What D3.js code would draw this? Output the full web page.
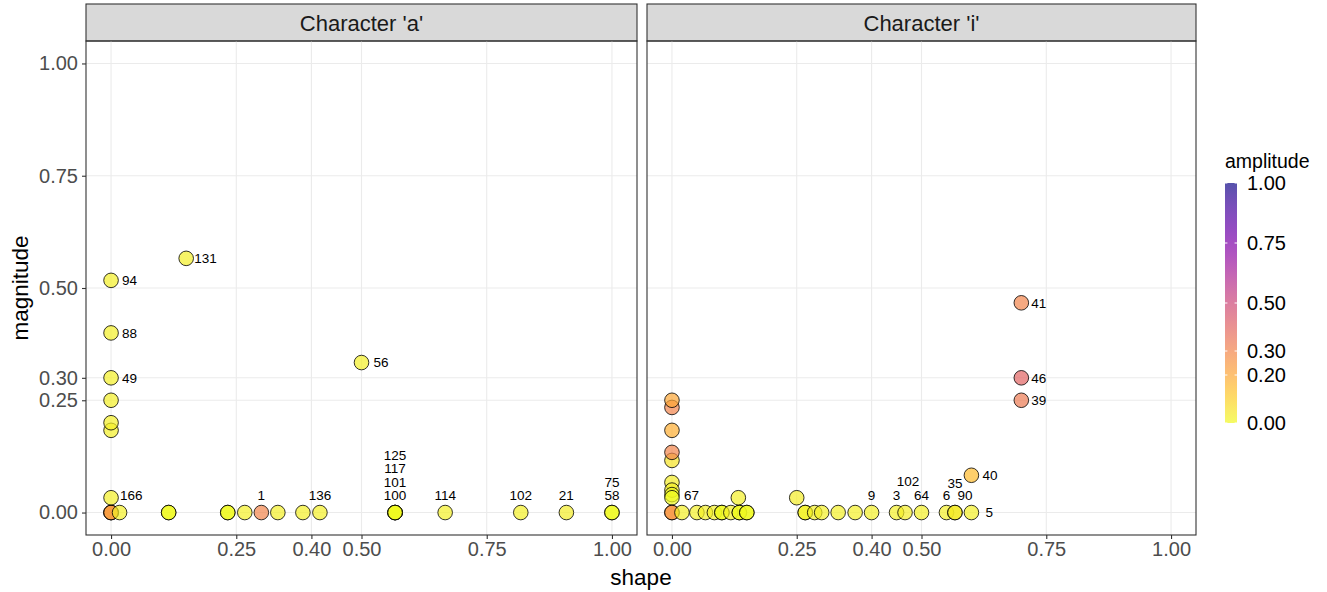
<!DOCTYPE html>
<html>
<head>
<meta charset="utf-8">
<script src="https://cdn.jsdelivr.net/npm/d3@7"></script>
<style>
  body { margin: 0; background: #fff; }
  svg { display: block; font-family: "Liberation Sans", Arial, sans-serif; }
</style>
</head>
<body>
<svg id="chart" width="1327" height="592"></svg>
<script>
// panel titles
const panelNames = ["Character 'a'", "Character 'i'"];

// Character 'a'
const aShape     = [0, 0, 0, 0.017, 0.115, 0.115, 0.233, 0.233, 0.267, 0.3, 0.333, 0.383, 0.417, 0.567, 0.567, 0.567, 0.567, 0.667, 0.818, 0.909, 1, 1, 0, 0, 0, 0, 0, 0, 0, 0.15, 0.5];
const aMagnitude = [0, 0, 0, 0, 0, 0, 0, 0, 0, 0, 0, 0, 0, 0, 0, 0, 0, 0, 0, 0, 0, 0, 0.033, 0.183, 0.2, 0.25, 0.3, 0.4, 0.517, 0.566, 0.334];
const aAmplitude = [0.02, 0.25, 0.25, 0.02, 0, 0, 0, 0, 0.02, 0.3, 0.02, 0.02, 0.02, 0, 0, 0, 0, 0.02, 0.02, 0.03, 0, 0, 0.02, 0.02, 0.02, 0.02, 0.02, 0.02, 0.02, 0.02, 0.02];
const aLabel     = ["", "", "", "", "", "", "", "", "", "1", "", "", "136", "100", "101", "117", "125", "114", "102", "21", "58", "75", "166", "", "", "", "49", "88", "94", "131", "56"];

// Character 'i'
const iShape     = [0, 0, 0, 0, 0, 0, 0, 0, 0, 0, 0, 0.02, 0.05, 0.067, 0.085, 0.1, 0.1, 0.118, 0.135, 0.135, 0.15, 0.15, 0.133, 0.25, 0.267, 0.267, 0.286, 0.3, 0.333, 0.367, 0.4, 0.45, 0.467, 0.5, 0.55, 0.567, 0.567, 0.6, 0.6, 0.7, 0.7, 0.7];
const iMagnitude = [0.234, 0.25, 0.183, 0.116, 0.134, 0.067, 0.05, 0.04, 0.033, 0, 0, 0, 0, 0, 0, 0, 0, 0, 0, 0, 0, 0, 0.033, 0.033, 0, 0, 0, 0, 0, 0, 0, 0, 0, 0, 0, 0, 0, 0, 0.083, 0.467, 0.3, 0.25];
const iAmplitude = [0.3, 0.2, 0.18, 0.05, 0.3, 0.03, 0.02, 0, 0, 0.25, 0.25, 0.02, 0.02, 0.02, 0.02, 0, 0, 0.02, 0, 0, 0, 0, 0.02, 0.03, 0, 0.02, 0.02, 0.02, 0.02, 0.02, 0.02, 0.02, 0.03, 0.02, 0.02, 0.05, 0.03, 0.02, 0.15, 0.3, 0.4, 0.33];
const iLabel     = ["", "", "", "", "", "", "", "", "67", "", "", "", "", "", "", "", "", "", "", "", "", "", "", "", "", "", "", "", "", "", "9", "3", "102", "64", "6", "35", "90", "5", "40", "41", "46", "39"];

// axis breaks
const xBreaks = [0, 0.25, 0.4, 0.5, 0.75, 1];
const yBreaks = [0, 0.25, 0.3, 0.5, 0.75, 1];
const ampBreaks = [0, 0.2, 0.3, 0.5, 0.75, 1];

// label placement: labels to the right of their point, the rest sit above
const rightLabels = {
  a: ["94", "88", "49", "131", "56", "166"],
  i: ["67", "5", "40", "41", "46", "39"]
};
// small manual nudges (px), mimicking the repel layout
const nudge = {
  "a:131": [8, 0], "a:94": [11, 0], "a:88": [11, 0], "a:49": [11, 0], "a:56": [12, 0], "a:166": [9, -2],
  "i:67": [12, -2], "i:5": [14, 0], "i:40": [11, 0], "i:41": [10, 0], "i:46": [10, 0], "i:39": [10, 0],
  "i:102": [3, -31], "i:35": [0, -29], "i:90": [10, -17]
};

const panelsData = [
  { key: "a", shape: aShape, mag: aMagnitude, amp: aAmplitude, lab: aLabel },
  { key: "i", shape: iShape, mag: iMagnitude, amp: iAmplitude, lab: iLabel }
];

const svg = d3.select("#chart");
const panelX = [[86, 637], [647, 1196]];
const stripTop = 4, panelTop = 41, panelBottom = 535;

const y = d3.scaleLinear().domain([-0.05, 1.05]).range([panelBottom, panelTop]);
const colour = a => d3.interpolatePlasma(1 - a);
const fmt = d3.format(".2f");
const alpha = 0.7;

panelsData.forEach((p, pi) => {
  const [x0, x1] = panelX[pi];
  const x = d3.scaleLinear().domain([-0.05, 1.05]).range([x0, x1]);
  const g = svg.append("g");

  // strip
  g.append("rect").attr("x", x0).attr("y", stripTop).attr("width", x1 - x0).attr("height", panelTop - stripTop)
    .attr("fill", "#D9D9D9").attr("stroke", "#333333").attr("stroke-width", 1.1);
  g.append("text").attr("x", (x0 + x1) / 2).attr("y", (stripTop + panelTop) / 2 + 8)
    .attr("text-anchor", "middle").attr("font-size", 22).attr("fill", "#1A1A1A").text(panelNames[pi]);

  // grid
  g.append("g").selectAll("line").data(xBreaks).join("line")
    .attr("x1", d => x(d)).attr("x2", d => x(d)).attr("y1", panelTop).attr("y2", panelBottom)
    .attr("stroke", "#EBEBEB").attr("stroke-width", 1.1);
  g.append("g").selectAll("line").data(yBreaks).join("line")
    .attr("x1", x0).attr("x2", x1).attr("y1", d => y(d)).attr("y2", d => y(d))
    .attr("stroke", "#EBEBEB").attr("stroke-width", 1.1);

  // points
  const pts = p.shape.map((s, i) => ({ s, m: p.mag[i], a: p.amp[i], lab: p.lab[i] }));
  g.append("g").selectAll("circle").data(pts).join("circle")
    .attr("cx", d => x(d.s)).attr("cy", d => y(d.m)).attr("r", 7.3)
    .attr("fill", d => colour(d.a)).attr("fill-opacity", alpha)
    .attr("stroke", "#000").attr("stroke-width", 0.8);

  // labels (stack "above" labels that share a point)
  const stackCount = {};
  const labs = pts.filter(d => d.lab !== "").map(d => {
    const right = rightLabels[p.key].includes(d.lab);
    const k = d.s + "|" + d.m;
    let level = 0;
    if (!right) { level = stackCount[k] || 0; stackCount[k] = level + 1; }
    const nd = nudge[p.key + ":" + d.lab];
    const dx = nd ? nd[0] : 0;
    const dy = nd ? nd[1] : (right ? 0 : -17 - level * 13.5);
    return { ...d, right, dx, dy };
  });
  g.append("g").selectAll("text").data(labs).join("text")
    .attr("x", d => x(d.s) + d.dx).attr("y", d => y(d.m) + d.dy + 4.7)
    .attr("text-anchor", d => d.right ? "start" : "middle")
    .attr("font-size", 13.5).attr("fill", "#000").text(d => d.lab);

  // border
  g.append("rect").attr("x", x0).attr("y", panelTop).attr("width", x1 - x0).attr("height", panelBottom - panelTop)
    .attr("fill", "none").attr("stroke", "#333333").attr("stroke-width", 1.1);

  // x axis
  const xa = g.append("g").attr("transform", `translate(0,${panelBottom})`)
    .call(d3.axisBottom(x).tickValues(xBreaks).tickFormat(fmt).tickSize(4).tickPadding(3));
  xa.select(".domain").remove();
  xa.selectAll("line").attr("stroke", "#333333").attr("stroke-width", 1.1);
  xa.selectAll("text").attr("font-size", 20).attr("fill", "#4D4D4D").attr("font-family", "Liberation Sans, Arial, sans-serif");

  if (pi === 0) {
    const ya = g.append("g").attr("transform", `translate(${x0},0)`)
      .call(d3.axisLeft(y).tickValues(yBreaks).tickFormat(fmt).tickSize(4).tickPadding(4));
    ya.select(".domain").remove();
    ya.selectAll("line").attr("stroke", "#333333").attr("stroke-width", 1.1);
    ya.selectAll("text").attr("font-size", 20).attr("fill", "#4D4D4D").attr("font-family", "Liberation Sans, Arial, sans-serif");
  }
});

// axis titles
svg.append("text").attr("x", 641).attr("y", 585).attr("text-anchor", "middle")
  .attr("font-size", 22.5).attr("fill", "#000").text("shape");
svg.append("text").attr("transform", `translate(28,${(panelTop + panelBottom) / 2}) rotate(-90)`)
  .attr("text-anchor", "middle").attr("font-size", 22.5).attr("fill", "#000").text("magnitude");

// legend colourbar
const ly = d3.scaleLinear().domain([0, 1]).range([423, 183]);
const grad = svg.append("defs").append("linearGradient").attr("id", "ampGrad")
  .attr("x1", 0).attr("y1", 1).attr("x2", 0).attr("y2", 0);
d3.range(0, 1.0001, 0.05).forEach(t => {
  grad.append("stop").attr("offset", t).attr("stop-color", colour(t)).attr("stop-opacity", alpha);
});
const lg = svg.append("g");
lg.append("text").attr("x", 1225).attr("y", 168).attr("font-size", 19.5).attr("fill", "#000").text("amplitude");
lg.append("rect").attr("x", 1225).attr("y", ly(1)).attr("width", 12).attr("height", ly(0) - ly(1))
  .attr("fill", "url(#ampGrad)");
lg.append("g").selectAll("line").data(ampBreaks.flatMap(b => [[b, 1225], [b, 1234.6]])).join("line")
  .attr("x1", d => d[1]).attr("x2", d => d[1] + 2.4).attr("y1", d => ly(d[0])).attr("y2", d => ly(d[0]))
  .attr("stroke", "#fff").attr("stroke-width", 1);
lg.append("g").selectAll("text").data(ampBreaks).join("text")
  .attr("x", 1247).attr("y", d => ly(d) + 7).attr("font-size", 20).attr("fill", "#000").text(fmt);
</script>
</body>
</html>
